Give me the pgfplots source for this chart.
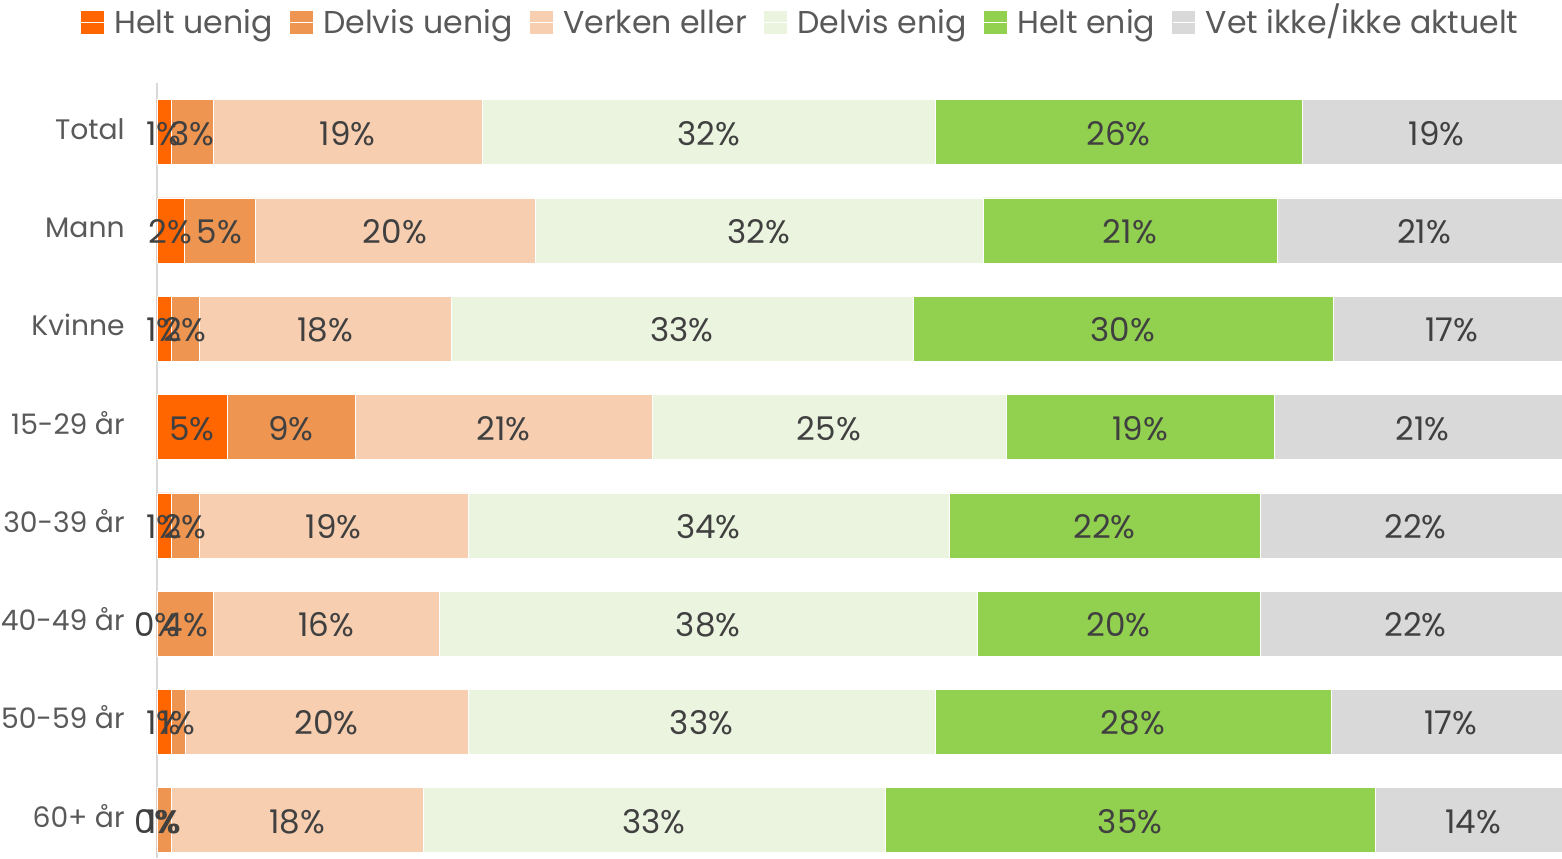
\documentclass[border=0pt]{standalone}
\usepackage{pgfplots}
\pgfplotsset{compat=1.18}
\usepackage{pgfplotstable}
\usepackage{fontspec}
\setmainfont{Poppins}
\definecolor{c1}{HTML}{FF6600}
\definecolor{c2}{HTML}{EE9651}
\definecolor{c3}{HTML}{F7CEB0}
\definecolor{c4}{HTML}{EBF4DF}
\definecolor{c5}{HTML}{92D050}
\definecolor{c6}{HTML}{D9D9D9}
\definecolor{txt}{HTML}{404040}
\definecolor{lgd}{HTML}{595959}

\pgfplotstableread{
y  v1   v2   v3    v4    v5    v6    l1 l2 l3 l4 l5 l6
0  0.99 2.97 19.02 32.04 25.95 19.03 1 3 19 32 26 19
1  1.91 5.02 19.80 31.68 20.79 20.80 2 5 20 32 21 21
2  0.99 1.98 17.82 32.67 29.70 16.84 1 2 18 33 30 17
3  4.95 9.05 21.00 25.04 18.95 21.01 5 9 21 25 19 21
4  0.99 1.98 19.02 34.02 21.99 22.00 1 2 19 34 22 22
5  0.01 3.96 15.98 38.05 20.01 21.99 0 4 16 38 20 22
6  0.99 0.99 20.01 33.03 28.00 16.98 1 1 20 33 28 17
7  0.01 0.99 17.82 32.67 34.65 13.86 0 1 18 33 35 14
}\data

\pgfplotsset{
  seg/.style={fill=#1, draw=white, line width=0.3pt,
    legend image code/.code={\fill[#1] (0pt,-5.5pt) rectangle (11pt,5.5pt); \path (0pt,0pt) -- (16.5pt,0pt);}},
}

\begin{document}
\begin{tikzpicture}
\begin{axis}[
  name=ax,
  x=7.07pt, y=49.15pt, y dir=reverse,
  xmin=0, xmax=100, ymin=-0.5, ymax=7.386,
  xbar stacked, bar width=32.5pt,
  hide x axis,
  axis y line*=left,
  y axis line style={draw=c6, line width=1pt, -},
  ytick={0,...,7},
  yticklabels={Total, Mann, Kvinne, 15-29 år, 30-39 år, 40-49 år, 50-59 år, 60+ år},
  major tick length=0pt,
  yticklabel style={font=\fontsize{14.1}{16}\selectfont, text=lgd, inner sep=0pt,
    text height=7pt, text depth=0pt, xshift=-16pt},
  point meta=explicit symbolic,
  nodes near coords={\pgfplotspointmeta\%},
  nodes near coords align=center,
  every node near coord/.append style={font=\fontsize{16.3}{19}\selectfont, text=txt, anchor=center,
    inner sep=0pt, text height=13pt, text depth=0pt},
  legend columns=6,
  legend style={draw=none, fill=none, at={(0.4544,1.0936)}, anchor=north, inner sep=0pt,
    nodes={inner sep=0pt, text height=11pt, text depth=0pt},
    font=\fontsize{15.8}{19}\selectfont, text=lgd,
    /tikz/every even column/.append style={column sep=8.5pt}},
  legend entries={Helt uenig, Delvis uenig, Verken eller, Delvis enig, Helt enig, Vet ikke/ikke aktuelt},
]
\addplot[seg=c1] table[x=v1, y=y, meta=l1] {\data};
\addplot[seg=c2] table[x=v2, y=y, meta=l2] {\data};
\addplot[seg=c3] table[x=v3, y=y, meta=l3] {\data};
\addplot[seg=c4] table[x=v4, y=y, meta=l4] {\data};
\addplot[seg=c5] table[x=v5, y=y, meta=l5] {\data};
\addplot[seg=c6] table[x=v6, y=y, meta=l6] {\data};
\coordinate (tl) at (axis cs:0,-0.5);
\end{axis}
\pgfresetboundingbox
\useasboundingbox ([shift={(-78.5pt,41.5pt)}]tl) rectangle ([shift={(702.5pt,-387.5pt)}]tl);
\end{tikzpicture}
\end{document}
